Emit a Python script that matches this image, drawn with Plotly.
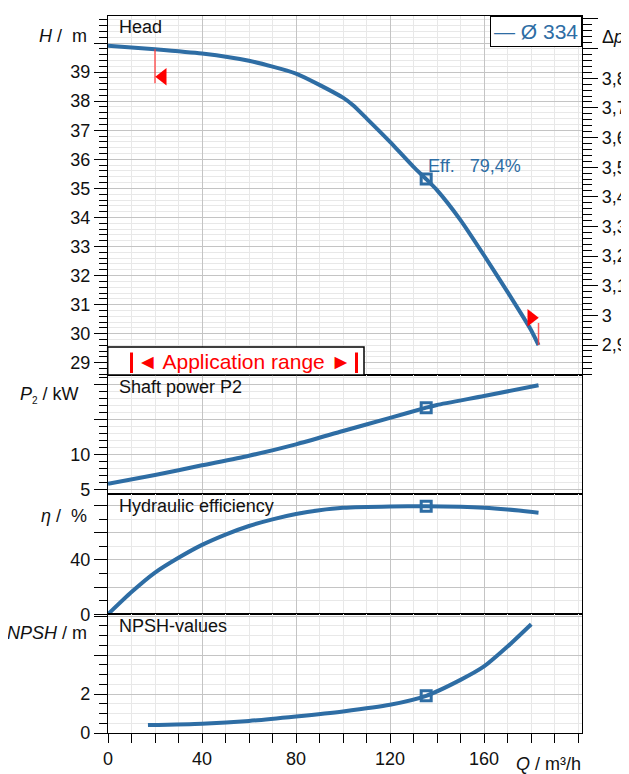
import plotly.graph_objects as go

# ---------------- data ----------------
q_head = [0, 20, 40, 60, 80, 100, 104.4, 110, 120, 130, 135.4, 140, 150, 160, 170, 180, 183.2]
h_head = [39.91, 39.79, 39.64, 39.39, 38.95, 38.12, 37.85, 37.41, 36.6, 35.74, 35.32, 34.94, 33.91, 32.7, 31.44, 30.13, 29.61]

q_p2 = [0, 20, 40, 60, 80, 100, 120, 135.4, 140, 160, 183.2]
p2 = [5.8, 7.05, 8.43, 9.8, 11.43, 13.33, 15.2, 16.67, 17.05, 18.33, 19.86]

q_eff = [0, 10, 20, 30, 40, 50, 60, 70, 80, 90, 100, 120, 135.4, 150, 160, 170, 183.2]
eff = [0, 16.3, 30.6, 41.5, 51, 58.6, 64.9, 69.8, 73.7, 76.5, 78.3, 79.3, 79.4, 79.0, 78.3, 77.0, 74.7]

q_npsh = [17, 40, 60, 80, 100, 120, 135.4, 150, 160, 170, 180.1]
npsh = [0.41, 0.48, 0.62, 0.85, 1.11, 1.45, 1.91, 2.73, 3.42, 4.44, 5.59]

q_bep = 135.4
h_bep, p2_bep, eff_bep, npsh_bep = 35.32, 16.67, 79.4, 1.91

# application range limits
q_app_left = [20, 20]
h_app_left = [39.79, 38.62]
q_app_right = [183.2, 183.2]
h_app_right = [29.61, 30.37]
q_tri = [23.3, 180.1]
h_tri = [38.84, 30.55]

x_ticks = [0, 40, 80, 120, 160]
head_ticks = [29, 30, 31, 32, 33, 34, 35, 36, 37, 38, 39, 40]
head_labels = ["29", "30", "31", "32", "33", "34", "35", "36", "37", "38", "39", ""]
dp_ticks = [2.9, 3.0, 3.1, 3.2, 3.3, 3.4, 3.5, 3.6, 3.7, 3.8, 3.9, 4.0]
dp_labels = ["2,9", "3", "3,1", "3,2", "3,3", "3,4", "3,5", "3,6", "3,7", "3,8", "", ""]
p2_ticks = [5, 10, 15, 20]
p2_labels = ["5", "10", "", ""]
eff_ticks = [0, 20, 40, 60, 80]
eff_labels = ["0", "", "40", "", ""]
npsh_ticks = [0, 2, 4, 6]
npsh_labels = ["0", "2", "", ""]

# ---------------- styling ----------------
BLUE = "#2E6DA4"
RED = "#FF0000"
FONT = "Liberation Sans, Arial, sans-serif"
GMAJ = "#c4c4c4"
GMIN = "#e8e8e8"

W, HT = 629, 774
OFF = 8  # page body margin
ML, MR, MT, MB = 100, 55, 8, 49
PW = W - ML - MR
PH = HT - MT - MB


def py(p):  # page pixel y -> paper
    return (HT - MB - (p - OFF)) / PH


def px(p):  # page pixel x -> paper
    return (p - OFF - ML) / PW


dom_npsh = [0, py(614.3)]
dom_eff = [py(614.3), py(494.3)]
dom_p2 = [py(494.3), py(375)]
dom_head = [py(375), 1]

fig = go.Figure()

line = dict(color=BLUE, width=4)
fig.add_trace(go.Scatter(x=q_head, y=h_head, mode="lines", line=dict(shape="spline", smoothing=0.6, **line), xaxis="x", yaxis="y", hoverinfo="skip"))
fig.add_trace(go.Scatter(x=q_p2, y=p2, mode="lines", line=dict(shape="spline", smoothing=0.6, **line), xaxis="x2", yaxis="y2", hoverinfo="skip"))
fig.add_trace(go.Scatter(x=q_eff, y=eff, mode="lines", line=dict(shape="spline", smoothing=0.6, **line), xaxis="x3", yaxis="y3", hoverinfo="skip"))
fig.add_trace(go.Scatter(x=q_npsh, y=npsh, mode="lines", line=dict(shape="spline", smoothing=0.6, **line), xaxis="x4", yaxis="y4", hoverinfo="skip"))

mk = dict(symbol="square-open", size=10, color=BLUE, line=dict(width=3, color=BLUE))
for xa, ya, v in [("x", "y", h_bep), ("x2", "y2", p2_bep), ("x3", "y3", eff_bep), ("x4", "y4", npsh_bep)]:
    fig.add_trace(go.Scatter(x=[q_bep], y=[v], mode="markers", marker=mk, xaxis=xa, yaxis=ya, hoverinfo="skip"))

# application range markers
fig.add_trace(go.Scatter(x=q_app_left, y=h_app_left, mode="lines", line=dict(color="rgba(255,60,60,0.85)", width=1.5), xaxis="x", yaxis="y"))
fig.add_trace(go.Scatter(x=q_app_right, y=h_app_right, mode="lines", line=dict(color="rgba(255,60,60,0.85)", width=1.5), xaxis="x", yaxis="y"))
fig.add_trace(go.Scatter(x=[q_tri[0]], y=[h_tri[0]], mode="markers", marker=dict(symbol="triangle-left", size=15, color=RED), xaxis="x", yaxis="y"))
fig.add_trace(go.Scatter(x=[q_tri[1]], y=[h_tri[1]], mode="markers", marker=dict(symbol="triangle-right", size=15, color=RED), xaxis="x", yaxis="y"))

LW = 1.3
xbase = dict(range=[0, 201.7], showline=True, mirror=True, linecolor="black", linewidth=LW,
             showgrid=True, gridcolor=GMAJ, gridwidth=1, tickmode="array", tickvals=x_ticks,
             minor=dict(dtick=10, tick0=0, showgrid=True, gridcolor=GMIN, gridwidth=1),
             zeroline=False, fixedrange=True, automargin=False)

ybase = dict(showline=True, mirror=True, linecolor="black", linewidth=LW, showgrid=True,
             gridcolor=GMAJ, gridwidth=1, zeroline=False, ticks="outside", ticklen=13,
             tickcolor="black", tickwidth=1, tickfont=dict(size=18, color="#111", family=FONT),
             tickmode="array", fixedrange=True, automargin=False)


def yax(domain, rng, tv, tt, mdt, anchor):
    d = dict(ybase)
    d.update(domain=domain, range=rng, tickvals=tv, ticktext=tt, anchor=anchor,
             minor=dict(dtick=mdt, tick0=0, ticks="outside", ticklen=8, tickcolor="black",
                        showgrid=True, gridcolor=GMIN, gridwidth=1))
    return d


xtop = dict(xbase, showticklabels=False, ticks="")
layout = dict(
    width=W, height=HT, autosize=False,
    margin=dict(l=ML, r=MR, t=MT, b=MB, pad=0),
    paper_bgcolor="white", plot_bgcolor="white", showlegend=False,
    font=dict(family=FONT, size=18, color="#111"),
    xaxis=dict(xtop, anchor="y", matches="x4"),
    xaxis2=dict(xtop, anchor="y2", matches="x4"),
    xaxis3=dict(xtop, anchor="y3", matches="x4"),
    xaxis4=dict(xbase, anchor="y4", ticks="outside", ticklen=9, tickcolor="black",
                tickfont=dict(size=18, color="#111", family=FONT),
                minor=dict(dtick=10, tick0=0, ticks="outside", ticklen=9, tickcolor="black",
                           showgrid=True, gridcolor=GMIN, gridwidth=1)),
    yaxis=yax(dom_head, [28.58, 40.93], head_ticks, head_labels, 0.2, "x"),
    yaxis2=yax(dom_p2, [4.29, 21.33], p2_ticks, p2_labels, 1, "x2"),
    yaxis3=yax(dom_eff, [0, 88.2], eff_ticks, eff_labels, 10, "x3"),
    yaxis4=yax(dom_npsh, [0, 6.1], npsh_ticks, npsh_labels, 0.5, "x4"),
    yaxis5=dict(overlaying="y", side="right", anchor="x", range=[2.799, 4.010], tickmode="array",
                tickvals=dp_ticks, ticktext=dp_labels, ticks="outside", ticklen=15, tickcolor="black",
                showline=True, linecolor="black", linewidth=LW, showgrid=False, zeroline=False,
                tickfont=dict(size=18, color="#111", family=FONT), fixedrange=True, automargin=False,
                minor=dict(dtick=0.02, tick0=0, ticks="outside", ticklen=9, tickcolor="black", showgrid=False)),
)
fig.update_layout(**layout)

# dummy trace so the Δp axis is drawn
fig.add_trace(go.Scatter(x=[None], y=[None], xaxis="x", yaxis="y5", showlegend=False))

ann = []


def atitle(text, edge_px, cy, xanchor="right"):
    ann.append(dict(text=text, xref="paper", yref="paper", x=px(edge_px), y=py(cy),
                    xanchor=xanchor, yanchor="middle", showarrow=False,
                    font=dict(size=18, color="#111", family=FONT)))


atitle("<i>H</i> /  m", 89, 36)
atitle("<i>P</i><sub><span style='font-size:10px'>2</span></sub> / kW", 81, 395)
atitle("<i>η</i> /  %", 89, 516)
atitle("<i>NPSH</i> / m", 89, 633)
atitle("<i>Q</i> / m³/h", 583, 764)
atitle("Δ<i>p</i> / bar", 600, 37, xanchor="left")

# panel titles
for t, cy in [("Head", 27), ("Shaft power P2", 387), ("Hydraulic efficiency", 506), ("NPSH-values", 626)]:
    ann.append(dict(text=t, xref="paper", yref="paper", x=px(117), y=py(cy), xanchor="left",
                    yanchor="middle", showarrow=False, font=dict(size=18, color="#111", family=FONT)))

# efficiency label at BEP
ann.append(dict(text="Eff.   79,4%", xref="x", yref="y", x=q_bep, y=h_bep, xanchor="left", yanchor="middle",
                xshift=0, yshift=13, showarrow=False, font=dict(size=18, color=BLUE, family=FONT)))

# legend box
ann.append(dict(text="— Ø 334", xref="paper", yref="paper", x=1, y=1, xanchor="right", yanchor="top",
                showarrow=False, bgcolor="white", bordercolor="black", borderwidth=1, borderpad=3,
                font=dict(size=21, color=BLUE, family=FONT)))

# application range label
ann.append(dict(text="◄ Application range ►", xref="paper", yref="paper", x=px(244), y=py(361),
                xanchor="center", yanchor="middle", showarrow=False,
                font=dict(size=21, color=RED, family=FONT)))

fig.update_layout(annotations=ann)

fig.add_shape(type="rect", xref="paper", yref="paper", x0=px(107.7), x1=px(364), y0=py(375), y1=py(347),
              fillcolor="white", line=dict(color="black", width=1.5), layer="above")
for bx in (131.5, 356.5):
    fig.add_shape(type="line", xref="paper", yref="paper", x0=px(bx), x1=px(bx), y0=py(373), y1=py(352.5),
                  line=dict(color=RED, width=3), layer="above")

fig.write_html("out.html")
